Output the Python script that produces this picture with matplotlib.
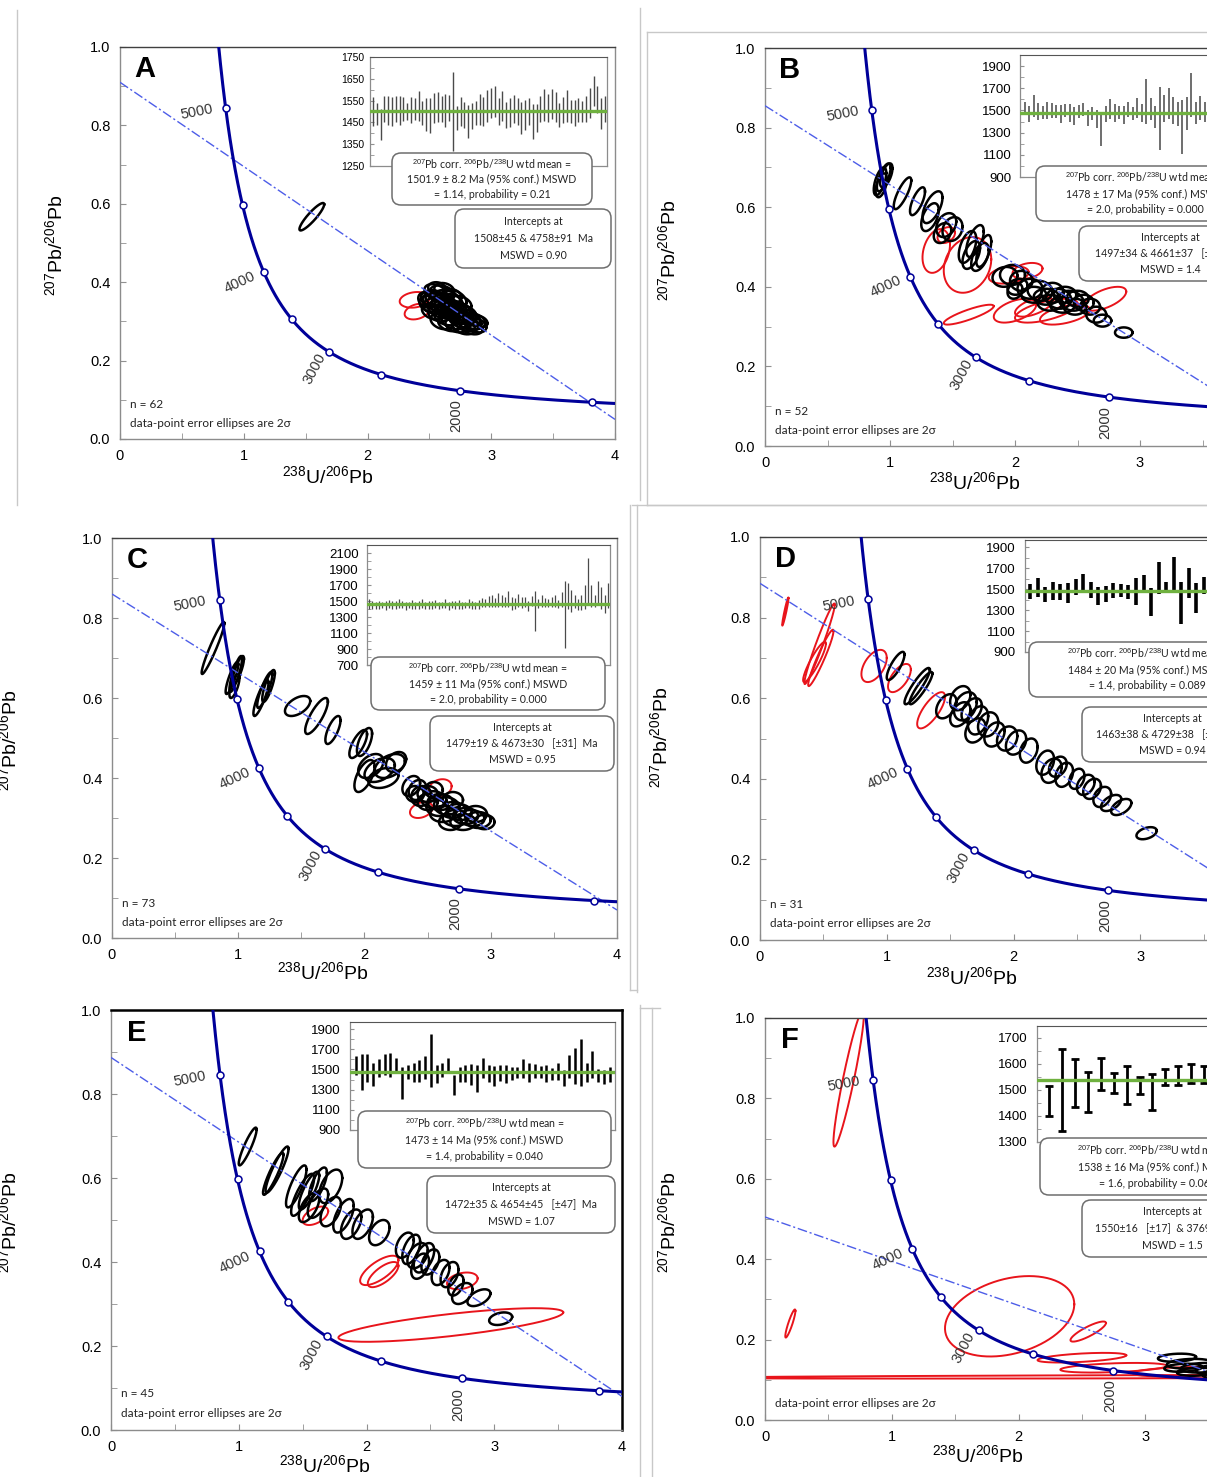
import numpy as np
import matplotlib
matplotlib.use("Agg")
from matplotlib import pyplot as plt
from matplotlib.patches import FancyBboxPatch
from matplotlib.lines import Line2D
from matplotlib.transforms import IdentityTransform
from matplotlib.ticker import MultipleLocator, FormatStrFormatter

plt.rcParams['font.family'] = ['Liberation Sans', 'DejaVu Sans']
plt.rcParams['mathtext.fontset'] = 'custom'
plt.rcParams['mathtext.rm'] = 'Liberation Sans'
plt.rcParams['mathtext.it'] = 'Liberation Sans:italic'
plt.rcParams['mathtext.bf'] = 'Liberation Sans:bold'

W, H = 1207, 1477
BOX_FONT = ['Lato', 'DejaVu Sans']

# ---------------- data ----------------
PANEL_LETTERS = ['A', 'B', 'C', 'D', 'E', 'F']
N_LABELS = ['n = 62', 'n = 52', 'n = 73', 'n = 31', 'n = 45', None]

# concordia age marks (Ma)
MARK_AGES = [1500, 2000, 2500, 3000, 3500, 4000, 4500, 5000]
LABEL_AGES = ['5000', '4000', '3000', '2000']

# discordia: y at x=0 and y at x=4
DISC_Y0 = [0.91, 0.855, 0.86, 0.885, 0.887, 0.505]
DISC_Y4 = [0.05, 0.06, 0.07, 0.085, 0.08, 0.065]

# error ellipses: (x, y, 2sigma_x, 2sigma_y, rho)
A_BLACK = [(1.55, 0.567, 0.1, 0.035, 0.9),
           (2.55, 0.375, 0.09, 0.02, -0.3), (2.60, 0.37, 0.10, 0.022, -0.2), (2.52, 0.36, 0.09, 0.02, 0.0),
           (2.58, 0.355, 0.11, 0.02, -0.3), (2.65, 0.36, 0.1, 0.02, -0.4), (2.62, 0.345, 0.1, 0.022, -0.2),
           (2.55, 0.34, 0.1, 0.02, 0.0), (2.68, 0.35, 0.09, 0.02, -0.3), (2.70, 0.335, 0.1, 0.02, -0.4),
           (2.60, 0.33, 0.11, 0.022, -0.3), (2.66, 0.325, 0.1, 0.02, -0.2), (2.74, 0.33, 0.09, 0.02, -0.3),
           (2.72, 0.315, 0.1, 0.022, -0.4), (2.78, 0.32, 0.1, 0.02, -0.3), (2.76, 0.305, 0.1, 0.02, -0.2),
           (2.82, 0.31, 0.09, 0.02, -0.4), (2.80, 0.295, 0.1, 0.02, -0.3), (2.86, 0.30, 0.09, 0.02, -0.2),
           (2.84, 0.285, 0.09, 0.018, -0.3), (2.70, 0.30, 0.1, 0.02, -0.3), (2.64, 0.31, 0.1, 0.02, -0.3),
           (2.58, 0.32, 0.09, 0.02, -0.2), (2.50, 0.345, 0.08, 0.02, -0.2), (2.53, 0.325, 0.09, 0.02, -0.3),
           (2.75, 0.345, 0.09, 0.02, -0.3), (2.68, 0.365, 0.08, 0.018, -0.2), (2.62, 0.38, 0.08, 0.018, -0.2),
           (2.56, 0.385, 0.07, 0.015, -0.1), (2.72, 0.29, 0.09, 0.018, -0.3), (2.78, 0.285, 0.09, 0.018, -0.3),
           (2.88, 0.29, 0.08, 0.018, -0.3), (2.66, 0.295, 0.09, 0.02, -0.3), (2.60, 0.30, 0.09, 0.02, -0.3),
           (2.48, 0.355, 0.07, 0.02, -0.2), (2.70, 0.355, 0.1, 0.025, -0.3), (2.76, 0.32, 0.12, 0.025, -0.3),
           (2.63, 0.335, 0.12, 0.025, -0.3), (2.57, 0.35, 0.12, 0.025, -0.3), (2.82, 0.30, 0.1, 0.022, -0.3),
           (2.90, 0.30, 0.07, 0.015, -0.3)]
A_RED = [(2.38, 0.355, 0.12, 0.02, 0.2), (2.40, 0.325, 0.1, 0.02, 0.3)]

B_BLACK = [(0.92, 0.665, 0.05, 0.035, 0.6), (0.95, 0.675, 0.055, 0.035, 0.7), (0.97, 0.68, 0.05, 0.03, 0.6),
           (0.93, 0.655, 0.045, 0.03, 0.5), (1.10, 0.635, 0.07, 0.04, 0.8), (1.22, 0.615, 0.06, 0.035, 0.7),
           (1.34, 0.60, 0.08, 0.04, 0.6), (1.32, 0.575, 0.07, 0.035, 0.5), (1.45, 0.555, 0.08, 0.03, 0.3),
           (1.50, 0.545, 0.08, 0.03, 0.2), (1.42, 0.535, 0.07, 0.025, 0.3), (1.62, 0.50, 0.07, 0.04, 0.5),
           (1.68, 0.515, 0.07, 0.04, 0.6), (1.65, 0.48, 0.07, 0.035, 0.5), (1.72, 0.475, 0.07, 0.035, 0.5),
           (1.75, 0.49, 0.06, 0.04, 0.6), (1.92, 0.425, 0.1, 0.025, 0.1), (1.98, 0.43, 0.1, 0.025, 0.0),
           (2.05, 0.415, 0.09, 0.025, 0.0), (2.02, 0.40, 0.08, 0.02, 0.2), (2.12, 0.395, 0.1, 0.025, 0.0),
           (2.20, 0.39, 0.1, 0.025, -0.1), (2.25, 0.375, 0.1, 0.02, 0.0), (2.30, 0.385, 0.09, 0.025, 0.0),
           (2.35, 0.37, 0.1, 0.025, -0.1), (2.40, 0.38, 0.09, 0.02, 0.0), (2.45, 0.365, 0.1, 0.025, -0.2),
           (2.50, 0.37, 0.09, 0.02, 0.0), (2.55, 0.36, 0.08, 0.02, 0.0), (2.28, 0.36, 0.1, 0.02, 0.0),
           (2.38, 0.355, 0.1, 0.02, 0.0), (2.48, 0.35, 0.09, 0.02, 0.0), (2.60, 0.35, 0.08, 0.02, 0.0),
           (2.65, 0.33, 0.08, 0.02, 0.0), (2.70, 0.315, 0.07, 0.015, 0.0), (2.87, 0.285, 0.07, 0.013, 0.0),
           (2.15, 0.38, 0.1, 0.02, 0.0), (2.00, 0.39, 0.06, 0.02, 0.2)]
B_RED = [(1.37, 0.49, 0.11, 0.055, 0.3), (1.62, 0.455, 0.19, 0.07, 0.2), (1.63, 0.33, 0.2, 0.025, 0.85),
         (1.95, 0.43, 0.16, 0.022, 0.3), (2.00, 0.34, 0.17, 0.03, 0.5), (2.25, 0.34, 0.25, 0.03, 0.6),
         (2.40, 0.33, 0.2, 0.025, 0.5), (2.72, 0.37, 0.17, 0.03, 0.6), (2.10, 0.44, 0.12, 0.02, 0.3),
         (1.45, 0.53, 0.07, 0.02, 0.3), (2.15, 0.35, 0.15, 0.025, 0.6)]

C_BLACK = [(0.80, 0.725, 0.09, 0.065, 0.95), (0.95, 0.65, 0.05, 0.04, 0.85), (0.98, 0.66, 0.05, 0.045, 0.85),
           (1.00, 0.67, 0.045, 0.035, 0.8), (0.97, 0.63, 0.04, 0.03, 0.7), (1.18, 0.60, 0.06, 0.045, 0.85),
           (1.21, 0.62, 0.06, 0.045, 0.85), (1.24, 0.63, 0.05, 0.04, 0.8), (1.47, 0.58, 0.1, 0.025, 0.5),
           (1.62, 0.555, 0.09, 0.045, 0.8), (1.75, 0.52, 0.06, 0.035, 0.7), (1.95, 0.485, 0.07, 0.035, 0.7),
           (2.00, 0.49, 0.06, 0.035, 0.6), (2.05, 0.43, 0.1, 0.03, 0.4), (2.12, 0.42, 0.12, 0.03, 0.4),
           (2.20, 0.43, 0.12, 0.03, 0.4), (2.25, 0.44, 0.08, 0.025, 0.3), (2.15, 0.40, 0.12, 0.025, 0.3),
           (2.00, 0.405, 0.08, 0.04, 0.6), (2.37, 0.38, 0.07, 0.025, 0.3), (2.42, 0.37, 0.07, 0.025, 0.2),
           (2.45, 0.355, 0.08, 0.025, 0.1), (2.50, 0.36, 0.08, 0.02, 0.0), (2.55, 0.345, 0.1, 0.022, -0.1),
           (2.60, 0.34, 0.1, 0.02, 0.0), (2.58, 0.325, 0.09, 0.02, -0.1), (2.65, 0.33, 0.1, 0.022, -0.1),
           (2.70, 0.32, 0.1, 0.02, 0.0), (2.62, 0.31, 0.1, 0.02, 0.0), (2.75, 0.315, 0.1, 0.02, -0.1),
           (2.80, 0.305, 0.1, 0.02, 0.0), (2.72, 0.30, 0.1, 0.02, 0.0), (2.85, 0.30, 0.1, 0.02, -0.1),
           (2.90, 0.295, 0.1, 0.02, 0.0), (2.78, 0.29, 0.1, 0.02, 0.0), (2.95, 0.29, 0.08, 0.018, 0.0),
           (2.68, 0.29, 0.09, 0.02, 0.0), (2.50, 0.34, 0.08, 0.02, 0.0), (2.40, 0.36, 0.07, 0.02, 0.0),
           (2.88, 0.31, 0.09, 0.02, 0.0), (2.70, 0.345, 0.08, 0.02, 0.0), (2.55, 0.37, 0.07, 0.02, 0.0)]
C_RED = [(2.60, 0.375, 0.09, 0.022, 0.2), (2.45, 0.32, 0.09, 0.02, 0.3)]

D_BLACK = [(1.07, 0.68, 0.07, 0.035, 0.8), (1.24, 0.63, 0.1, 0.045, 0.9), (1.27, 0.625, 0.09, 0.04, 0.9),
           (1.47, 0.58, 0.08, 0.03, 0.4), (1.58, 0.60, 0.08, 0.03, 0.3), (1.62, 0.58, 0.09, 0.035, 0.3),
           (1.67, 0.57, 0.08, 0.03, 0.4), (1.58, 0.56, 0.08, 0.03, 0.4), (1.72, 0.545, 0.08, 0.035, 0.3),
           (1.80, 0.535, 0.08, 0.03, 0.2), (1.70, 0.52, 0.08, 0.03, 0.3), (1.85, 0.51, 0.08, 0.03, 0.3),
           (1.95, 0.50, 0.08, 0.03, 0.2), (2.02, 0.49, 0.08, 0.03, 0.3), (2.12, 0.47, 0.07, 0.03, 0.3),
           (2.25, 0.44, 0.07, 0.03, 0.3), (2.30, 0.42, 0.08, 0.03, 0.3), (2.35, 0.43, 0.07, 0.025, 0.3),
           (2.40, 0.41, 0.07, 0.03, 0.3), (2.50, 0.40, 0.06, 0.025, 0.3), (2.57, 0.385, 0.07, 0.025, 0.3),
           (2.62, 0.375, 0.07, 0.025, 0.3), (2.70, 0.355, 0.07, 0.025, 0.3), (2.77, 0.34, 0.08, 0.02, 0.5),
           (2.85, 0.33, 0.08, 0.02, 0.5), (3.05, 0.265, 0.08, 0.015, 0.4)]
D_RED = [(0.20, 0.815, 0.025, 0.035, 0.95), (0.47, 0.735, 0.12, 0.1, 0.97), (0.48, 0.70, 0.1, 0.07, 0.95),
         (0.43, 0.69, 0.09, 0.05, 0.9), (0.90, 0.68, 0.1, 0.04, 0.5), (1.10, 0.65, 0.09, 0.035, 0.6),
         (1.35, 0.57, 0.11, 0.045, 0.75)]

E_BLACK = [(1.07, 0.675, 0.07, 0.045, 0.9), (1.30, 0.62, 0.09, 0.055, 0.9), (1.27, 0.61, 0.08, 0.05, 0.9),
           (1.45, 0.58, 0.08, 0.05, 0.8), (1.50, 0.56, 0.09, 0.05, 0.8), (1.55, 0.57, 0.08, 0.045, 0.8),
           (1.62, 0.585, 0.07, 0.04, 0.7), (1.72, 0.58, 0.09, 0.04, 0.5), (1.55, 0.53, 0.08, 0.035, 0.6),
           (1.62, 0.54, 0.08, 0.035, 0.6), (1.72, 0.52, 0.08, 0.035, 0.5), (1.82, 0.51, 0.08, 0.04, 0.6),
           (1.88, 0.49, 0.08, 0.035, 0.5), (1.97, 0.49, 0.08, 0.035, 0.5), (2.10, 0.47, 0.08, 0.03, 0.4),
           (2.30, 0.44, 0.07, 0.03, 0.4), (2.35, 0.43, 0.07, 0.035, 0.5), (2.40, 0.415, 0.08, 0.03, 0.4),
           (2.45, 0.41, 0.08, 0.035, 0.5), (2.50, 0.40, 0.07, 0.03, 0.4), (2.42, 0.39, 0.07, 0.03, 0.4),
           (2.58, 0.375, 0.07, 0.03, 0.4), (2.65, 0.37, 0.07, 0.03, 0.4), (2.70, 0.345, 0.06, 0.025, 0.4),
           (2.75, 0.325, 0.08, 0.025, 0.4), (2.88, 0.315, 0.09, 0.02, 0.5), (3.05, 0.265, 0.09, 0.015, 0.3)]
E_RED = [(1.60, 0.51, 0.1, 0.022, 0.5), (2.10, 0.38, 0.15, 0.035, 0.7), (2.13, 0.37, 0.12, 0.03, 0.7),
         (2.75, 0.355, 0.12, 0.02, 0.3), (2.66, 0.25, 0.88, 0.04, 0.75)]

F_BLACK = [(3.25, 0.155, 0.15, 0.01, 0.2), (3.35, 0.14, 0.18, 0.012, 0.2), (3.45, 0.13, 0.17, 0.012, 0.2),
           (3.55, 0.125, 0.15, 0.012, 0.2), (3.60, 0.115, 0.15, 0.012, 0.2), (3.40, 0.12, 0.15, 0.01, 0.2),
           (3.30, 0.13, 0.15, 0.01, 0.2)]
F_RED = [(0.66, 0.85, 0.12, 0.17, 0.93), (0.20, 0.24, 0.04, 0.035, 0.9), (1.93, 0.258, 0.51, 0.1, 0.3),
         (2.55, 0.22, 0.14, 0.025, 0.85), (2.50, 0.155, 0.35, 0.012, 0.5), (2.75, 0.13, 0.42, 0.012, 0.4),
         (3.30, 0.12, 0.4, 0.012, 0.3), (3.50, 0.108, 4.0, 0.005, 0.6)]

# weighted-mean insets: 207Pb-corrected 206Pb/238U ages and 2 sigma errors (Ma)
A_AGES = [1500, 1490, 1440, 1510, 1505, 1500, 1510, 1505, 1512, 1500,
          1505, 1510, 1525, 1495, 1485, 1480, 1515, 1520, 1510, 1505,
          1515, 1500, 1470, 1500, 1485, 1455, 1480, 1495, 1510, 1500,
          1525, 1540, 1545, 1500, 1525, 1485, 1495, 1510, 1500, 1470,
          1485, 1500, 1455, 1470, 1510, 1530, 1515, 1535, 1520, 1485,
          1505, 1525, 1500, 1495, 1505, 1500, 1510, 1540, 1595, 1555,
          1490, 1510]
A_ERRS = [65, 50, 70, 60, 65, 65, 60, 65, 55, 40,
          60, 50, 70, 55, 75, 80, 70, 70, 60, 75,
          60, 180, 55, 65, 60, 75, 60, 55, 70, 65,
          75, 70, 70, 60, 70, 60, 65, 65, 60, 75,
          70, 60, 80, 65, 60, 75, 65, 70, 70, 55,
          60, 75, 55, 60, 55, 50, 60, 70, 70, 60,
          70, 60]
B_AGES = [1520, 1470, 1540, 1490, 1480, 1500, 1500, 1490, 1470, 1500,
          1480, 1450, 1490, 1510, 1430, 1470, 1420, 1330, 1470, 1510,
          1480, 1480, 1460, 1510, 1470, 1520, 1480, 1580, 1510, 1440,
          1425, 1520, 1560, 1500, 1470, 1350, 1470, 1640, 1480, 1520,
          1490, 1450, 1560, 1500, 1550, 1450, 1500, 1480, 1560, 1470,
          1520, 1500]
B_ERRS = [60, 70, 100, 80, 60, 80, 70, 60, 80, 60,
          80, 80, 60, 60, 70, 60, 80, 150, 70, 90,
          80, 60, 80, 70, 60, 90, 80, 200, 100, 100,
          285, 120, 140, 120, 110, 240, 150, 200, 100, 110,
          90, 110, 150, 110, 140, 130, 100, 120, 160, 90,
          130, 110]
C_AGES = [1460, 1450, 1445, 1455, 1450, 1440, 1460, 1450, 1445, 1470,
          1455, 1440, 1450, 1460, 1445, 1450, 1470, 1440, 1455, 1450,
          1460, 1445, 1450, 1465, 1440, 1455, 1450, 1460, 1445, 1450,
          1470, 1455, 1440, 1460, 1480, 1470, 1490, 1500, 1480, 1510,
          1500, 1490, 1520, 1470, 1470, 1510, 1480, 1490, 1440, 1500,
          1380, 1470, 1500, 1480, 1470, 1490, 1500, 1460, 1520, 1330,
          1560, 1500, 1490, 1460, 1480, 1550, 1750, 1560, 1500, 1600,
          1540, 1460, 1570]
C_ERRS = [60, 50, 45, 50, 40, 55, 50, 45, 50, 60,
          45, 50, 40, 55, 45, 50, 60, 45, 50, 45,
          50, 45, 40, 55, 50, 45, 50, 55, 45, 40,
          60, 50, 45, 55, 60, 50, 70, 80, 60, 90,
          70, 60, 100, 80, 70, 80, 70, 60, 60, 60,
          250, 60, 70, 60, 50, 60, 70, 50, 90, 420,
          160, 140, 80, 70, 90, 150, 290, 140, 80, 150,
          140, 110, 160]
D_AGES = [1476, 1517, 1453, 1480, 1470, 1461, 1522, 1552, 1493, 1437,
          1458, 1485, 1488, 1473, 1480, 1549, 1377, 1605, 1517, 1637,
          1372, 1557, 1413, 1531, 1500, 1560, 1450, 1520, 1490, 1540,
          1470]
D_ERRS = [70, 88, 72, 87, 77, 96, 77, 92, 80, 88,
          77, 72, 59, 67, 131, 88, 131, 154, 56, 167,
          200, 144, 144, 81, 120, 130, 100, 90, 110, 120,
          100]
E_AGES = [1538, 1475, 1516, 1451, 1516, 1550, 1544, 1543, 1364, 1477,
          1468, 1486, 1518, 1590, 1452, 1496, 1546, 1348, 1447, 1460,
          1450, 1414, 1513, 1457, 1435, 1467, 1452, 1463, 1471, 1509,
          1468, 1483, 1476, 1463, 1455, 1480, 1418, 1529, 1533, 1568,
          1468, 1549, 1440, 1425, 1447]
E_ERRS = [91, 178, 136, 111, 86, 103, 114, 70, 156, 70,
          94, 106, 111, 260, 88, 66, 66, 100, 73, 86,
          103, 133, 100, 83, 95, 80, 88, 66, 58, 96,
          94, 70, 63, 83, 58, 83, 78, 116, 178, 236,
          94, 136, 66, 71, 73]
F_AGES = [1457, 1500, 1526, 1491, 1562, 1527, 1519, 1518, 1492, 1549,
          1554, 1563, 1559, 1570, 1565, 1560]
F_ERRS = [58, 158, 91, 77, 61, 38, 72, 32, 68, 32,
          37, 38, 32, 40, 35, 45]

WTD_MEANS = [1501.9, 1478, 1459, 1484, 1473, 1538]
INSET_YLIMS = [(1250, 1750), (900, 2000), (700, 2200), (900, 1970), (900, 1970), (1300, 1745)]
INSET_TICKS = [(1250, 1750, 100), (900, 1900, 200), (700, 2100, 200),
               (900, 1900, 200), (900, 1900, 200), (1300, 1700, 100)]

MEAN_TEXT = [
    ['$^{207}$Pb corr. $^{206}$Pb/$^{238}$U wtd mean =', '1501.9 ± 8.2 Ma (95% conf.) MSWD', '= 1.14, probability = 0.21'],
    ['$^{207}$Pb corr. $^{206}$Pb/$^{238}$U wtd mean =', '1478 ± 17 Ma (95% conf.) MSWD', '= 2.0, probability = 0.000'],
    ['$^{207}$Pb corr. $^{206}$Pb/$^{238}$U wtd mean =', '1459 ± 11 Ma (95% conf.) MSWD', '= 2.0, probability = 0.000'],
    ['$^{207}$Pb corr. $^{206}$Pb/$^{238}$U wtd mean =', '1484 ± 20 Ma (95% conf.) MSWD', '= 1.4, probability = 0.089'],
    ['$^{207}$Pb corr. $^{206}$Pb/$^{238}$U wtd mean =', '1473 ± 14 Ma (95% conf.) MSWD', '= 1.4, probability = 0.040'],
    ['$^{207}$Pb corr. $^{206}$Pb/$^{238}$U wtd mean =', '1538 ± 16 Ma (95% conf.) MSWD', '= 1.6, probability = 0.061'],
]
ICPT_TEXT = [
    ['Intercepts at', '1508±45 & 4758±91  Ma', 'MSWD = 0.90'],
    ['Intercepts at', '1497±34 & 4661±37   [±38]  Ma', 'MSWD = 1.4'],
    ['Intercepts at', '1479±19 & 4673±30   [±31]  Ma', 'MSWD = 0.95'],
    ['Intercepts at', '1463±38 & 4729±38   [±40]  Ma', 'MSWD = 0.94'],
    ['Intercepts at', '1472±35 & 4654±45   [±47]  Ma', 'MSWD = 1.07'],
    ['Intercepts at', '1550±16   [±17]  & 3769±95  Ma', 'MSWD = 1.5'],
]

BLACKS = [A_BLACK, B_BLACK, C_BLACK, D_BLACK, E_BLACK, F_BLACK]
REDS = [A_RED, B_RED, C_RED, D_RED, E_RED, F_RED]
INSET_AGES = [A_AGES, B_AGES, C_AGES, D_AGES, E_AGES, F_AGES]
INSET_ERRS = [A_ERRS, B_ERRS, C_ERRS, D_ERRS, E_ERRS, F_ERRS]

# ---------------- layout (pixels, top-left origin) ----------------
LAYOUT = [
    dict(ax=(120, 615, 47, 439), inset=(370, 607, 57, 166), xl=(0.2, 62.5), box1=(392, 592, 153, 205),
         box2=(455, 611, 209, 268), ylab=(55, 245), xlab=(328, 476), tick_fs=7.5, pad=4, bar=('#4a4a4a', 1.0)),
    dict(ax=(765, 1265, 48, 446), inset=(1020, 1257, 55, 177), xl=(-0.1, 52.6), box1=(1036, 1254, 166, 221),
         box2=(1079, 1262, 226, 281), ylab=(668, 250), xlab=(975, 482), tick_fs=9.5, pad=6, bar=('#555555', 1.2)),
    dict(ax=(112, 617, 538, 938), inset=(367, 610, 545, 665), xl=(0.4, 73.6), box1=(371, 605, 657, 710),
         box2=(430, 614, 716, 771), ylab=(9, 740), xlab=(323, 972), tick_fs=9.5, pad=6, bar=('#4a4a4a', 0.9)),
    dict(ax=(760, 1267, 537, 940), inset=(1025, 1262, 540, 652), xl=(0.3, 31.7), box1=(1029, 1265, 642, 697),
         box2=(1082, 1262, 707, 762), ylab=(660, 737), xlab=(972, 977), tick_fs=9.5, pad=7, bar=('black', 2.6)),
    dict(ax=(111, 622, 1010, 1430), inset=(350, 615, 1022, 1130), xl=(0.0, 45.9), box1=(358, 611, 1111, 1168),
         box2=(427, 615, 1176, 1233), ylab=(9, 1222), xlab=(325, 1465), tick_fs=9.5, pad=7, bar=('black', 1.8)),
    dict(ax=(765, 1272, 1018, 1420), inset=(1037, 1262, 1026, 1142), xl=(0.05, 17.5), box1=(1040, 1274, 1138, 1195),
         box2=(1082, 1262, 1200, 1257), ylab=(668, 1222), xlab=(978, 1455), tick_fs=9.5, pad=7, bar=('black', 2.0)),
]

FRAME_LINES = [(17, 10, 17, 505), (640, 8, 640, 500), (647, 32, 1207, 32), (647, 32, 647, 505),
               (647, 505, 1207, 505), (630, 505, 630, 990), (632, 505, 1207, 505), (637, 505, 637, 992),
               (630, 990, 637, 990), (640, 1005, 640, 1477), (652, 1008, 652, 1477), (640, 1008, 660, 1008)]

L238, L235, U_RATIO = 1.55125e-10, 9.8485e-10, 137.88


def concordia(t_ma):
    t = np.asarray(t_ma, dtype=float) * 1e6
    e8 = np.exp(L238 * t) - 1
    e5 = np.exp(L235 * t) - 1
    return 1 / e8, e5 / e8 / U_RATIO


def ellipse_xy(x, y, sx, sy, rho):
    t = np.linspace(0, 2 * np.pi, 160)
    return x + sx * np.cos(t), y + sy * (rho * np.cos(t) + np.sqrt(1 - rho ** 2) * np.sin(t))


def fig_rect(l, r, t, b):
    return [l / W, 1 - b / H, (r - l) / W, (b - t) / H]


def ftext(x, y, s, **kw):
    return fig.text(x / W, 1 - y / H, s, **kw)


fig = plt.figure(figsize=(W / 100, H / 100), dpi=100)
fig.patch.set_facecolor('white')

for (x0, y0, x1, y1) in FRAME_LINES:
    fig.add_artist(Line2D([x0 / W, x1 / W], [1 - y0 / H, 1 - y1 / H], transform=fig.transFigure,
                          color='#c8c8c8', lw=1.0))

curve_x, curve_y = concordia(np.linspace(1300, 5600, 800))
mark_x, mark_y = concordia(MARK_AGES)
label_pos = [(0.62, 0.835, 11), (0.97, 0.40, 25), (1.57, 0.18, 62), (2.72, 0.06, 90)]

for i, lay in enumerate(LAYOUT):
    ax = fig.add_axes(fig_rect(*lay['ax']))
    ax.set_xlim(0, 4)
    ax.set_ylim(0, 1)

    for (x, y, sx, sy, rho) in REDS[i]:
        ex, ey = ellipse_xy(x, y, sx, sy, rho)
        ax.plot(ex, ey, color='#e8141b', lw=1.4, zorder=2)
    for (x, y, sx, sy, rho) in BLACKS[i]:
        ex, ey = ellipse_xy(x, y, sx, sy, rho)
        ax.plot(ex, ey, color='black', lw=1.8, zorder=3)

    ax.plot([0, 4], [DISC_Y0[i], DISC_Y4[i]], color='#4d5de8', lw=1.0, dashes=(7, 2, 1.5, 2), zorder=4)
    ax.plot(curve_x, curve_y, color='#000099', lw=2.2, zorder=5)
    ax.plot(mark_x, mark_y, 'o', ms=5, mfc='white', mec='#000099', mew=1.1, zorder=6)
    for lab, (lx, ly, rot) in zip(LABEL_AGES, label_pos):
        ax.text(lx, ly, lab, rotation=rot, ha='center', va='center', rotation_mode='anchor',
                fontsize=10.5, color='#333333', zorder=7)

    ax.xaxis.set_major_locator(MultipleLocator(1))
    ax.xaxis.set_minor_locator(MultipleLocator(0.5))
    ax.yaxis.set_major_locator(MultipleLocator(0.2))
    ax.yaxis.set_minor_locator(MultipleLocator(0.1))
    ax.yaxis.set_major_formatter(FormatStrFormatter('%.1f'))
    ax.xaxis.set_major_formatter(FormatStrFormatter('%d'))
    ax.tick_params(which='both', direction='in', length=4, color='#909090', labelsize=10.5, pad=7)
    for side in ['left', 'bottom', 'right']:
        ax.spines[side].set_color('#8c8c8c')
        ax.spines[side].set_linewidth(1.0)
    ax.spines['top'].set_color('#404040')
    ax.spines['top'].set_linewidth(1.0)
    if i == 4:
        ax.spines['top'].set_color('black')
        ax.spines['right'].set_color('black')
        ax.spines['top'].set_linewidth(1.8)
        ax.spines['right'].set_linewidth(1.8)

    ax.text(0.05, 0.945, PANEL_LETTERS[i], transform=ax.transAxes, ha='center', va='center',
            fontsize=21, fontweight='bold', zorder=8)
    if N_LABELS[i]:
        ax.text(0.02, 0.087, N_LABELS[i], transform=ax.transAxes, ha='left', va='center',
                fontsize=8.5, family=BOX_FONT, color='#222222')
    ax.text(0.02, 0.04, 'data-point error ellipses are 2σ', transform=ax.transAxes, ha='left',
            va='center', fontsize=8.5, family=BOX_FONT, color='#222222')

    ftext(*lay['ylab'], '$^{207}$Pb/$^{206}$Pb', rotation=90, ha='center', va='center', fontsize=14)
    ftext(*lay['xlab'], '$^{238}$U/$^{206}$Pb', ha='center', va='center', fontsize=14)

    # weighted mean inset
    ages = np.array(INSET_AGES[i], dtype=float)
    errs = np.array(INSET_ERRS[i], dtype=float)
    xs = np.arange(1, len(ages) + 1)
    axi = fig.add_axes(fig_rect(*lay['inset']))
    axi.set_xlim(*lay['xl'])
    axi.set_ylim(*INSET_YLIMS[i])
    color, lw = lay['bar']
    if i == 5:
        axi.errorbar(xs, ages, yerr=errs, fmt='none', ecolor='black', elinewidth=2.0, capsize=3, capthick=2.0)
    else:
        axi.vlines(xs, ages - errs, ages + errs, color=color, lw=lw)
    axi.axhline(WTD_MEANS[i], color='#6fb13f', lw=2.4, zorder=5)
    lo, hi, step = INSET_TICKS[i]
    axi.set_yticks(np.arange(lo, hi + 1, step))
    axi.yaxis.set_minor_locator(MultipleLocator(step / 2))
    axi.set_xticks([])
    axi.tick_params(axis='y', which='both', direction='in', length=3, color='#909090',
                    labelsize=lay['tick_fs'], pad=lay['pad'])
    for side in ['left', 'bottom', 'right']:
        axi.spines[side].set_color('#8c8c8c')
        axi.spines[side].set_linewidth(0.9)
    axi.spines['top'].set_color('#555555')

    # text boxes
    for key, lines in (('box1', MEAN_TEXT[i]), ('box2', ICPT_TEXT[i])):
        l, r, t, b = lay[key]
        fig.add_artist(FancyBboxPatch((l, H - b), r - l, b - t, boxstyle='round,pad=0,rounding_size=9',
                                      transform=IdentityTransform(), facecolor='white',
                                      edgecolor='#6e6e6e', lw=1.1, zorder=5))
        cx = (l + r) / 2
        dy = (b - t) / 3.4
        for k, line in enumerate(lines):
            ftext(cx, (t + b) / 2 + (k - 1) * dy, line, ha='center', va='center', fontsize=7.6,
                  family=BOX_FONT, color='#222222', zorder=6)

fig.savefig('out.png', dpi=100, facecolor='white')
